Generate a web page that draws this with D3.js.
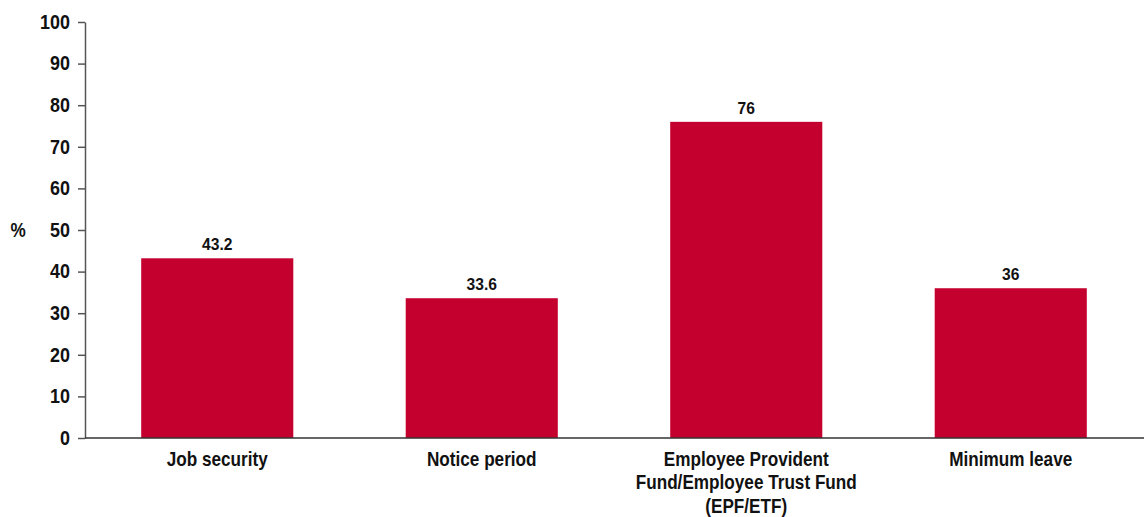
<!DOCTYPE html>
<html>
<head>
<meta charset="utf-8">
<script src="https://cdn.jsdelivr.net/npm/d3@7"></script>
<style>
  body { margin: 0; background: #fff; }
  text { font-family: "Liberation Sans Narrow", "Arial Narrow", "Liberation Sans", sans-serif; font-weight: bold; }
</style>
</head>
<body>
<div id="chart"></div>
<script>
// datos
const categories = ["Job security", "Notice period", "Employee Provident\nFund/Employee Trust Fund\n(EPF/ETF)", "Minimum leave"];
const values = [43.2, 33.6, 76, 36];
const valueLabels = ["43.2", "33.6", "76", "36"];
const yTicks = [0, 10, 20, 30, 40, 50, 60, 70, 80, 90, 100];

const width = 1144, height = 517;
const margin = { top: 22, right: 1, bottom: 79, left: 85 };
const squeeze = 0.88; // imitar la fuente condensada

const svg = d3.select("#chart").append("svg")
    .attr("width", width)
    .attr("height", height);

const x = d3.scaleBand()
    .domain(categories)
    .range([margin.left, width - margin.right])
    .paddingInner(0.425)
    .paddingOuter(0.2125);

const y = d3.scaleLinear()
    .domain([0, 100])
    .range([height - margin.bottom, margin.top]);

// barras
svg.selectAll(".bar")
    .data(values)
    .enter().append("rect")
    .attr("class", "bar")
    .attr("x", (d, i) => x(categories[i]))
    .attr("width", x.bandwidth())
    .attr("y", d => y(d))
    .attr("height", d => y(0) - y(d))
    .attr("fill", "#c4002f");

// etiquetas de valor
svg.selectAll(".val")
    .data(values)
    .enter().append("text")
    .attr("class", "val")
    .attr("transform", (d, i) => `translate(${x(categories[i]) + x.bandwidth() / 2},${y(d) - 8}) scale(0.92,1)`)
    .attr("text-anchor", "middle")
    .style("font-size", "17px")
    .style("fill", "#111")
    .text((d, i) => valueLabels[i]);

// eje Y
const yAxis = svg.append("g")
    .attr("transform", `translate(${margin.left},0)`)
    .call(d3.axisLeft(y).tickValues(yTicks).tickSize(7).tickSizeOuter(0).tickPadding(8));
yAxis.select(".domain").attr("stroke", "#555").attr("stroke-width", 1.5);
yAxis.selectAll(".tick line").attr("stroke", "#555").attr("stroke-width", 1.5);
yAxis.selectAll(".tick text")
    .attr("x", null)
    .attr("transform", "translate(-15,0) scale(0.92,1)")
    .style("font-size", "19.5px")
    .style("font-family", "'Liberation Sans Narrow', 'Liberation Sans', sans-serif")
    .style("font-weight", "bold")
    .style("fill", "#111");

// eje X
svg.append("line")
    .attr("x1", margin.left).attr("x2", width)
    .attr("y1", y(0)).attr("y2", y(0))
    .attr("stroke", "#333").attr("stroke-width", 1.5);

const xl = svg.selectAll(".xlab")
    .data(categories)
    .enter().append("text")
    .attr("class", "xlab")
    .attr("text-anchor", "middle")
    .attr("transform", d => `translate(${x(d) + x.bandwidth() / 2},${y(0) + 28}) scale(${squeeze},1)`)
    .style("font-size", "19.5px")
    .style("fill", "#111");
xl.each(function(d) {
    const t = d3.select(this);
    d.split("\n").forEach((line, i) => {
        t.append("tspan")
            .attr("x", 0)
            .attr("dy", i === 0 ? 0 : 23.5)
            .text(line);
    });
});

// unidad
svg.append("text")
    .attr("transform", `translate(18,${y(50) + 7}) scale(${squeeze},1)`)
    .attr("text-anchor", "middle")
    .style("font-size", "19.5px")
    .style("fill", "#111")
    .text("%");
</script>
</body>
</html>
